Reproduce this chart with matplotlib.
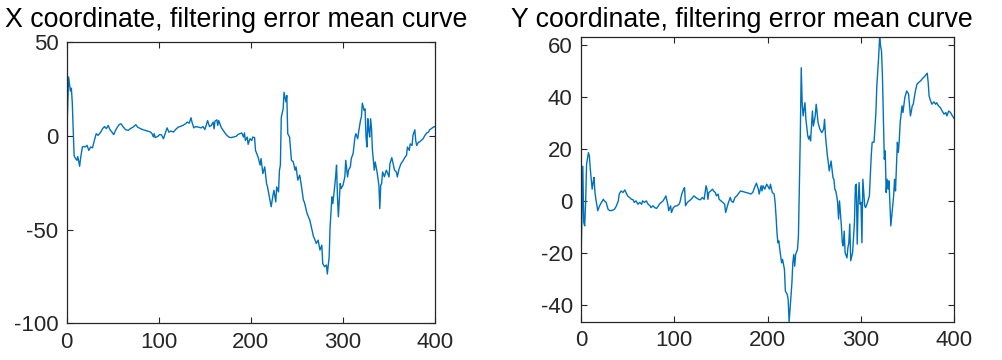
import matplotlib
matplotlib.use("Agg")
import matplotlib.pyplot as plt

plt.rcParams['font.family'] = ['Liberation Sans', 'DejaVu Sans']
plt.rcParams['axes.unicode_minus'] = False

# X coordinate error, read at irregular sample steps
x_steps = [0, 1, 2, 4, 5, 6, 8, 9, 11, 12, 14, 15, 17, 18, 20, 22, 24, 26, 28, 30,
           32, 34, 37, 39, 41, 43, 45, 47, 49, 51, 53, 55, 57, 59, 61, 64, 67, 69, 72, 75,
           77, 80, 83, 85, 88, 91, 93, 94, 95, 96, 99, 101, 103, 105, 109, 111, 113, 116, 118, 121,
           123, 126, 129, 131, 133, 135, 136, 138, 140, 143, 146, 148, 150, 152, 153, 155, 157, 159, 160, 161,
           163, 164, 165, 167, 168, 170, 173, 176, 178, 181, 184, 186, 188, 190, 192, 193, 194, 196, 197, 199,
           201, 202, 204, 205, 208, 210, 211, 213, 215, 217, 218, 220, 222, 224, 225, 227, 228, 230, 231, 232,
           233, 235, 236, 238, 239, 240, 242, 244, 246, 248, 249, 251, 253, 255, 257, 258, 261, 264, 266, 268,
           269, 271, 273, 275, 277, 278, 280, 282, 283, 285, 286, 288, 289, 290, 292, 293, 294, 295, 297, 298,
           300, 302, 303, 305, 306, 308, 309, 311, 313, 314, 316, 317, 319, 320, 321, 323, 324, 325, 326, 327,
           328, 329, 330, 331, 332, 334, 335, 337, 339, 340, 341, 342, 343, 345, 347, 348, 350, 351, 353, 354,
           356, 358, 359, 361, 363, 365, 367, 369, 370, 372, 373, 375, 376, 378, 379, 380, 382, 383, 385, 387,
           389, 391, 393, 394, 396, 398, 400]
x_error = [1.0, 15.0, 31.5, 24.0, 25.5, 18.0, -10.4, -11.6, -13.0, -11.0, -16.2, -12.0, -5.9, -5.6, -5.9, -5.0, -7.7, -5.9, -6.3, -2.4,
           1.2, 0.3, 2.1, 3.9, 5.0, 3.9, 5.6, 3.3, 2.1, 0.7, 3.0, 4.7, 6.1, 6.5, 5.0, 3.3, 3.0, 3.9, 4.7, 6.0,
           4.7, 3.9, 3.3, 3.0, 2.6, 2.1, 0.9, -0.5, 1.2, -0.9, -0.2, 0.8, 0.5, -1.5, 4.3, 2.0, 2.6, 2.1, 3.3, 4.7,
           5.0, 5.6, 6.5, 7.4, 6.8, 9.7, 7.4, 4.3, 5.0, 4.7, 4.3, 5.0, 3.4, 6.5, 8.2, 5.0, 5.6, 7.4, 3.8, 7.9,
           8.6, 5.6, 8.2, 5.6, 4.3, 2.9, 0.8, -0.6, -0.9, -0.6, -0.2, 0.8, 1.2, 1.6, -0.6, 1.6, -2.4, -0.6, -4.5, -1.5,
           -2.4, -0.6, -0.9, -7.7, -11.6, -15.6, -12.1, -20.1, -16.5, -25.4, -27.1, -32.4, -37.8, -31.6, -29.0, -35.2, -27.2, -29.9, -18.4, -15.6,
           10.0, 14.4, 23.3, 18.2, 21.6, 1.2, -0.6, -12.9, -13.8, -18.3, -16.5, -23.6, -20.9, -27.2, -34.3, -35.2, -41.4, -45.0, -49.4, -53.8,
           -54.7, -57.4, -55.6, -60.9, -58.3, -68.1, -69.8, -68.9, -73.7, -64.5, -48.5, -32.5, -36.1, -31.6, -21.9, -15.6, -32.5, -43.1, -25.4, -28.1,
           -26.3, -21.9, -13.0, -21.9, -18.3, -16.5, -12.1, -9.4, -0.6, 1.2, -1.5, 2.1, 8.3, 10.1, 17.5, 13.6, 14.4, -0.6, -5.9, 9.2,
           3.0, -0.6, 9.2, 3.9, -7.7, -18.3, -13.9, -19.2, -26.3, -38.8, -26.3, -25.4, -19.2, -21.8, -18.3, -19.2, -21.9, -14.8, -11.6, -13.9,
           -18.3, -19.2, -21.9, -17.4, -14.8, -13.4, -11.6, -10.3, -5.9, -7.7, -4.2, -5.1, 0.3, 3.3, -2.4, -5.1, -3.3, -3.3, -2.4, -1.5,
           0.3, 1.6, 2.1, 3.3, 3.9, 4.7, 5.0]

# Y coordinate error, read at irregular sample steps
y_steps = [0, 1, 2, 3, 4, 5, 6, 8, 9, 10, 12, 13, 14, 15, 16, 18, 20, 22, 24, 25,
           27, 29, 31, 34, 36, 38, 40, 41, 43, 45, 47, 49, 50, 52, 54, 56, 57, 59, 61, 63,
           65, 66, 68, 70, 72, 74, 75, 77, 79, 81, 83, 84, 86, 88, 90, 91, 93, 94, 96, 97,
           99, 101, 103, 105, 106, 108, 110, 111, 112, 114, 116, 118, 121, 123, 126, 128, 130, 132, 133, 134,
           135, 136, 137, 139, 141, 142, 144, 145, 147, 148, 150, 152, 154, 155, 157, 158, 160, 161, 163, 165,
           167, 169, 171, 174, 177, 180, 182, 184, 186, 188, 190, 191, 193, 194, 195, 197, 199, 201, 202, 203,
           205, 207, 208, 209, 210, 211, 212, 213, 215, 216, 218, 219, 220, 221, 222, 223, 224, 226, 227, 228,
           229, 230, 232, 233, 234, 235, 236, 237, 238, 240, 241, 243, 244, 245, 246, 247, 248, 249, 251, 252,
           253, 254, 256, 258, 259, 260, 261, 262, 264, 265, 266, 268, 270, 271, 272, 273, 274, 275, 276, 277,
           279, 280, 281, 282, 283, 285, 286, 287, 288, 289, 291, 292, 293, 294, 295, 296, 297, 298, 299, 300,
           301, 302, 304, 305, 307, 309, 311, 312, 314, 316, 317, 319, 320, 321, 322, 323, 325, 326, 327, 328,
           329, 330, 332, 333, 335, 336, 337, 339, 340, 341, 342, 344, 345, 347, 349, 351, 353, 355, 356, 358,
           360, 362, 364, 366, 368, 370, 371, 372, 373, 374, 376, 378, 380, 381, 383, 385, 387, 389, 391, 392,
           394, 396, 398, 400]
y_error = [-23.0, -7.0, 13.3, -8.3, -9.6, -0.6, 14.0, 18.5, 17.3, 12.2, 4.5, 7.0, 9.0, 3.2, 0.6, -3.8, -1.9, -0.6, 0.6, 0.0,
           -0.6, -3.2, -3.8, -3.6, -3.2, -1.9, 0.0, 2.6, 3.8, 3.2, 4.2, 2.6, 1.9, 1.3, 0.6, 0.4, -0.6, 0.0, -1.3, -0.6,
           -1.3, 0.0, -0.6, 0.0, -1.3, -1.9, -2.6, -1.9, -2.6, -2.9, -1.9, -1.3, -0.6, 0.0, 1.3, 1.9, -1.3, -3.8, -1.9, -4.5,
           -2.6, -2.0, -1.9, -1.3, -0.6, 2.6, 4.5, 5.1, -1.9, -0.6, 0.0, 0.6, 1.9, 1.3, 0.6, 0.4, 1.3, 0.6, 3.2, 5.8,
           4.5, 0.6, 3.2, 3.8, 4.5, 3.8, 3.2, 1.9, 2.6, 0.6, 0.0, -0.6, -1.3, -4.5, -1.9, -0.6, 1.3, 0.0, -0.6, 1.3,
           1.9, 2.9, 3.8, 3.5, 3.2, 2.9, 2.6, 3.2, 5.1, 6.8, 4.5, 2.6, 5.8, 3.8, 5.8, 4.5, 6.4, 5.1, 4.5, 6.4,
           3.2, 2.6, -0.6, -5.8, -12.2, -16.1, -15.4, -18.6, -23.8, -22.5, -26.3, -34.6, -35.3, -35.9, -37.9, -46.4, -41.7, -31.5, -23.8, -20.6,
           -25.1, -20.6, -18.6, -13.4, 5.8, 24.9, 51.1, 37.7, 32.6, 37.7, 31.3, 24.9, 23.7, 24.9, 23.0, 28.7, 34.5, 28.7, 32.6, 37.1,
           33.9, 30.1, 27.5, 26.2, 26.8, 27.5, 31.3, 24.9, 17.3, 14.7, 11.5, 15.3, 8.9, 8.3, 4.5, 3.8, 1.9, -0.6, -7.0, 0.0,
           -9.6, -16.1, -17.3, -11.6, -19.9, -21.9, -18.0, -16.1, -8.9, -23.0, -19.9, -14.0, -8.3, 5.8, 6.4, -16.6, -0.6, 7.0, -1.3, -0.6,
           -16.1, 8.3, -2.0, -2.6, -0.6, 1.9, 17.3, 22.5, 22.5, 33.9, 44.2, 55.6, 62.8, 59.5, 57.5, 48.0, 16.0, 19.2, 3.2, 8.3,
           4.5, 7.7, -9.6, -5.8, 1.9, 8.3, 3.8, 22.5, 18.6, 23.0, 30.0, 36.5, 33.9, 39.7, 42.2, 41.0, 32.6, 36.5, 37.1, 41.6,
           44.8, 45.5, 46.1, 47.0, 47.7, 48.6, 49.0, 45.5, 40.3, 39.0, 37.1, 38.0, 37.1, 37.7, 36.5, 35.8, 34.5, 33.3, 33.9, 32.6,
           34.5, 33.9, 32.6, 31.5]

LINE_COLOR = '#0072BD'
AX_COLOR = '#262626'

fig = plt.figure(figsize=(10.02, 3.6), dpi=100)
ax1 = fig.add_axes([0.0666, 0.102, 0.3676, 0.7806])
ax2 = fig.add_axes([0.5798, 0.1064, 0.3726, 0.79])


def style(ax):
    for s in ax.spines.values():
        s.set_color(AX_COLOR)
        s.set_linewidth(0.9)
    ax.tick_params(direction='in', length=4, width=0.8, colors=AX_COLOR,
                   labelsize=16, top=True, right=True, pad=6)


ax1.plot(x_steps, x_error, color=LINE_COLOR, linewidth=1.0)
ax1.set_xlim(0, 400)
ax1.set_ylim(-100, 50)
ax1.set_xticks([0, 100, 200, 300, 400])
ax1.set_yticks([-100, -50, 0, 50])
style(ax1)
fig.text(5 / 1002, 1 - 27 / 360, 'X coordinate, filtering error mean curve',
         fontsize=19.3, color='black', ha='left', va='baseline')

ax2.plot(y_steps, y_error, color=LINE_COLOR, linewidth=1.0)
ax2.set_xlim(0, 400)
ax2.set_ylim(min(y_error), max(y_error))
ax2.set_xticks([0, 100, 200, 300, 400])
ax2.set_yticks([-40, -20, 0, 20, 40, 60])
style(ax2)
fig.text(511 / 1002, 1 - 27 / 360, 'Y coordinate, filtering error mean curve',
         fontsize=19.3, color='black', ha='left', va='baseline')

fig.savefig('out.png', dpi=100)
